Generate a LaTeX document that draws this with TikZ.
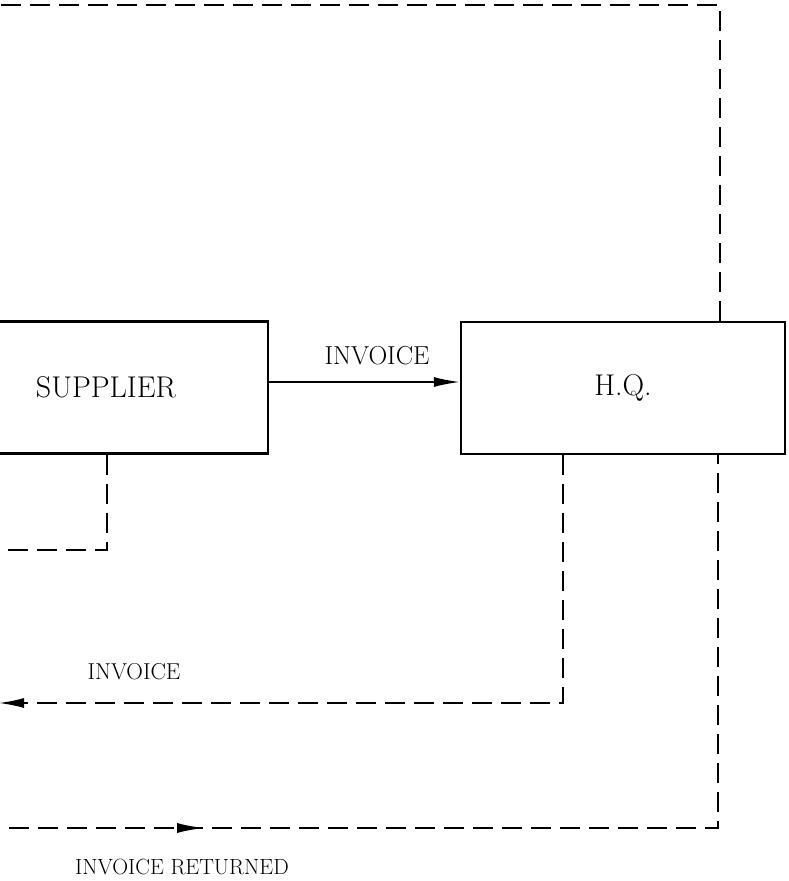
\documentclass[tikz,border=0pt]{standalone}
\usetikzlibrary{arrows.meta,decorations.markings}
\tikzset{
  boxnode/.style={draw, line width=2.4pt, minimum width=324pt, minimum height=132pt, inner sep=0pt, font=\fontsize{30}{33}\selectfont},
  lbl/.style={font=\fontsize{23}{26}\selectfont, inner sep=0pt},
  flow/.style={line width=2.4pt, dash pattern=on 20pt off 9pt},
  tipstyle/.style={-{Latex[length=26pt,width=10pt]}},
}
\begin{document}
\begin{tikzpicture}[x=1pt,y=-1pt]
\useasboundingbox (0,0) rectangle (789,881);
\clip (0,0) rectangle (789,881);
\node[boxnode] (sup) at (106,387.5) {SUPPLIER};
\node[boxnode] (hq) at (623,388) {H.Q.};
% solid invoice
\draw[line width=1.6pt, tipstyle] (sup.east |- 0,382) coordinate (s1) -- (hq.west |- 0,382) coordinate (h1);
\node[lbl, font=\fontsize{26}{29}\selectfont] (l1) at (377,356) {INVOICE};
% top loop
\coordinate (topl) at (-20,5);
\coordinate (topr) at (720,5);
\draw[flow] (hq.north -| 720,0) -- (topr) -- (topl);
% supplier down-left
\coordinate (sd) at (107,550);
\coordinate (sl) at (-20,550);
\draw[flow] (sup.south -| 107,0) -- (sd) -- (sl);
% HQ -> invoice left
\coordinate (hd1) at (563,703);
\coordinate (il) at (-2,703);
\draw[flow, tipstyle] (hq.south -| 563,0) -- (hd1) -- (il);
\node[lbl] (l2) at (134,672) {INVOICE};
% invoice returned
\coordinate (rl) at (-20,828);
\coordinate (rd) at (718,828);
\draw[flow, postaction={decorate}, decoration={markings, mark=at position 225pt with {\arrow{Latex[length=28pt,width=10pt]}}}] (rl) -- (rd) -- (hq.south -| 718,0);
\node[lbl, font=\fontsize{22}{25}\selectfont] (l3) at (182,867) {INVOICE\ RETURNED};
\end{tikzpicture}
\end{document}
